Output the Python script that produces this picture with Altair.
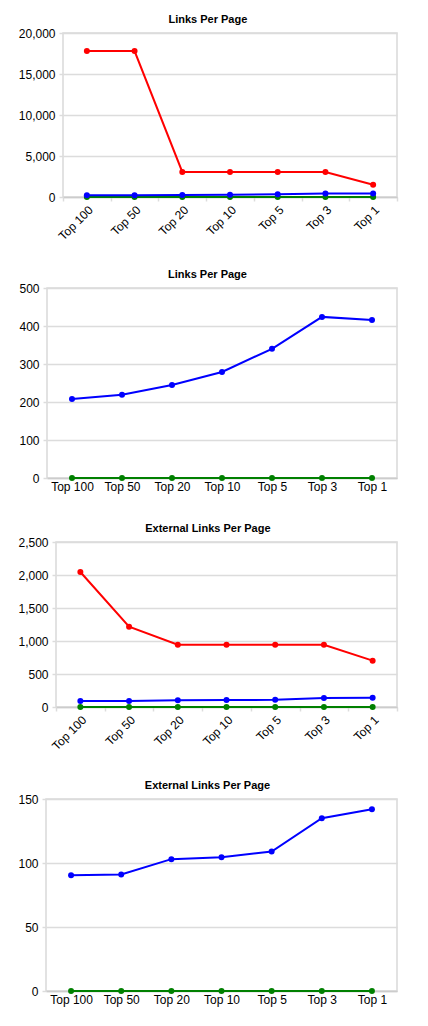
import altair as alt
import pandas as pd

categories = ["Top 100", "Top 50", "Top 20", "Top 10", "Top 5", "Top 3", "Top 1"]
series_names = ["Green", "Blue", "Red"]
series_colors = ["#008000", "#0000ff", "#ff0000"]

links_red = [17800, 17800, 3050, 3050, 3050, 3050, 1500]
links_blue = [208, 219, 245, 279, 340, 424, 416]
links_green = [0, 0, 0, 0, 0, 0, 0]

ext_red = [2045, 1217, 944, 944, 944, 944, 702]
ext_blue = [90.5, 91, 103, 104.5, 109, 135, 142]
ext_green = [0, 0, 0, 0, 0, 0, 0]

titles = ["Links Per Page", "Links Per Page", "External Links Per Page", "External Links Per Page"]
y_ticks_1 = [0, 5000, 10000, 15000, 20000]
y_ticks_2 = [0, 100, 200, 300, 400, 500]
y_ticks_3 = [0, 500, 1000, 1500, 2000, 2500]
y_ticks_4 = [0, 50, 100, 150]


def frame(series):
    rows = []
    for name, vals in series:
        for c, v in zip(categories, vals):
            rows.append({"cat": c, "value": v, "series": name})
    return pd.DataFrame(rows)


GRID = "#dcdcdc"
FRAME = "#d9d9d9"


def panel(df, title, ticks, width, height, extent, rotated):
    x = alt.X(
        "cat:N",
        sort=categories,
        bandPosition=0.5,
        scale=alt.Scale(type="band", paddingInner=0, paddingOuter=0),
        axis=alt.Axis(
            title=None,
            labelAngle=-45 if rotated else 0,
            ticks=rotated,
            tickBand="extent",
            tickSize=4,
            tickColor=GRID,
            tickWidth=1.5,
            grid=False,
            domainColor="#cccccc",
            domainWidth=1.5,
            labelFontSize=12,
            labelFont="Arial",
            labelColor="#000000",
            labelPadding=3,
        ),
    )
    y = alt.Y(
        "value:Q",
        scale=alt.Scale(domain=[ticks[0], ticks[-1]], nice=False),
        axis=alt.Axis(
            title=None,
            values=ticks,
            format=",.0f",
            grid=True,
            gridColor=GRID,
            gridWidth=1.5,
            domain=False,
            tickSize=4,
            tickColor=GRID,
            tickWidth=1.5,
            labelFontSize=12,
            labelFont="Arial",
            labelColor="#000000",
            labelPadding=4,
            minExtent=extent,
            maxExtent=extent,
        ),
    )
    color = alt.Color(
        "series:N",
        scale=alt.Scale(domain=series_names, range=series_colors),
        legend=None,
    )
    base = alt.Chart(df).encode(x=x, y=y, color=color)
    lines = base.mark_line(strokeWidth=2)
    pts = base.mark_point(filled=True, size=36, opacity=1)
    return alt.layer(lines, pts).properties(
        width=width,
        height=height,
        view=alt.ViewBackground(stroke=FRAME, strokeWidth=1.5),
        title=alt.TitleParams(
            title,
            fontSize=11,
            font="Arial",
            fontWeight="bold",
            anchor="middle",
            frame="bounds",
            offset=2,
            color="#000000",
        ),
    )


def spacer(w):
    return (
        alt.Chart(pd.DataFrame({"v": [0]}))
        .mark_rule(opacity=0, strokeWidth=1)
        .encode(x=alt.value(1), y=alt.value(0), y2=alt.value(1))
        .properties(width=w, height=1, view=alt.ViewBackground(stroke="transparent"))
    )


def row(w, chart):
    return alt.hconcat(spacer(w), chart, spacing=0)


df1 = frame([("Green", links_green), ("Blue", links_blue), ("Red", links_red)])
df2 = frame([("Green", links_green), ("Blue", links_blue)])
df3 = frame([("Green", ext_green), ("Blue", ext_blue), ("Red", ext_red)])
df4 = frame([("Green", ext_green), ("Blue", ext_blue)])

c1 = panel(df1, titles[0], y_ticks_1, 334, 164, 45, True)
c2 = panel(df2, titles[1], y_ticks_2, 350, 190, 29, False)
c3 = panel(df3, titles[2], y_ticks_3, 341, 165, 38, True)
c4 = panel(df4, titles[3], y_ticks_4, 351, 192, 28, False)

top = alt.vconcat(row(2, c1), row(2, c2), spacing=25)
bottom = alt.vconcat(row(2, c3), row(2, c4), spacing=26)

chart = alt.vconcat(top, bottom, spacing=29).configure(background="#ffffff")

chart.save("out.html", embed_options={"renderer": "svg", "actions": False})
